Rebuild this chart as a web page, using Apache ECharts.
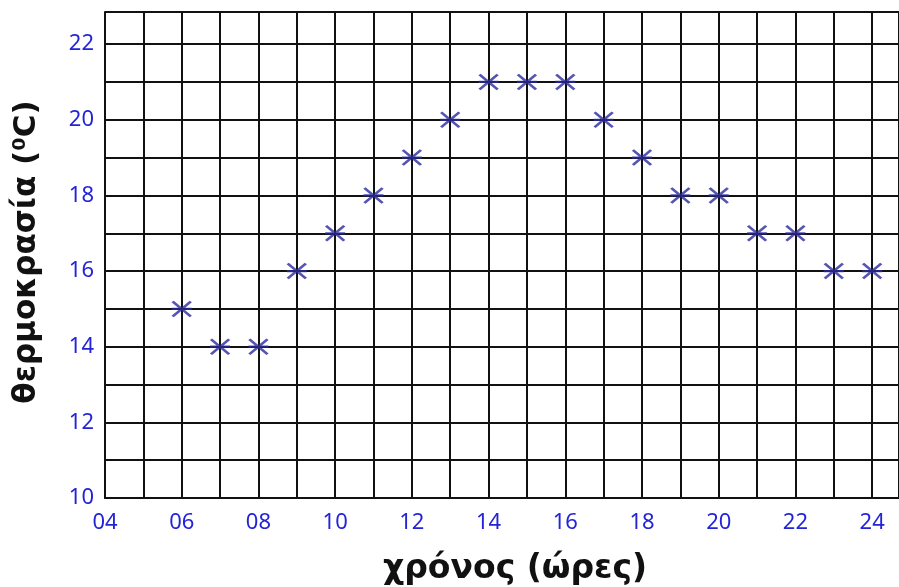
<!DOCTYPE html>
<html><head><meta charset="utf-8">
<script src="https://cdn.jsdelivr.net/npm/echarts@6/dist/echarts.min.js"></script>
<style>html,body{margin:0;padding:0;background:#fff}#c{width:899px;height:587px}</style>
</head><body><div id="c"></div>
<script>
const hours = [6,7,8,9,10,11,12,13,14,15,16,17,18,19,20,21,22,23,24];
const temps = [15,14,14,16,17,18,19,20,21,21,21,20,19,18,18,17,17,16,16];
const xName = 'χρόνος (ώρες)';
const yName = 'θερμοκρασία (⁰C)';

const chart = echarts.init(document.getElementById('c'));
const labelColor = '#2323d8';
chart.setOption({
  backgroundColor: '#ffffff',
  animation: false,
  grid: { left: 105, top: 12, right: 0, bottom: 89, containLabel: false, outerBoundsMode: 'none' },
  xAxis: {
    type: 'value', min: 4, max: 24.7, interval: 1,
    name: xName, nameLocation: 'middle', nameGap: 55,
    nameTextStyle: { fontFamily: 'DejaVu Sans', fontWeight: 'bold', fontSize: 33, color: '#111', padding: [0, 0, 0, 26] },
    axisLine: { show: true, lineStyle: { color: '#111', width: 2 } },
    axisTick: { show: false },
    axisLabel: { margin: 14, fontSize: 22, color: labelColor, fontFamily: 'Noto Sans',
      formatter: v => (Number.isInteger(v) && v % 2 === 0) ? String(v).padStart(2, '0') : '' },
    splitLine: { show: true, lineStyle: { color: '#111', width: 2 } }
  },
  yAxis: {
    type: 'value', min: 10, max: 22.85, interval: 1,
    name: yName, nameLocation: 'middle', nameGap: 63, nameRotate: 90,
    nameTextStyle: { fontFamily: 'DejaVu Sans', fontWeight: 'bold', fontSize: 31, color: '#111', padding: [0, 0, 0, 6] },
    axisLine: { show: true, lineStyle: { color: '#111', width: 2 } },
    axisTick: { show: false },
    axisLabel: { margin: 11, fontSize: 22, color: labelColor, fontFamily: 'Noto Sans',
      formatter: v => (Number.isInteger(v) && v % 2 === 0) ? String(v) : '' },
    splitLine: { show: true, lineStyle: { color: '#111', width: 2 } }
  },
  series: [{
    type: 'scatter',
    data: hours.map((h, i) => [h, temps[i]]),
    symbol: 'path://M-10,-7L10,7M-10,7L10,-7M-11,0L11,0',
    symbolSize: [20, 15],
    itemStyle: { color: 'rgba(0,0,0,0)', borderColor: '#2a2a9c', borderWidth: 2.6 },
    z: 5
  }]
});
</script></body></html>
